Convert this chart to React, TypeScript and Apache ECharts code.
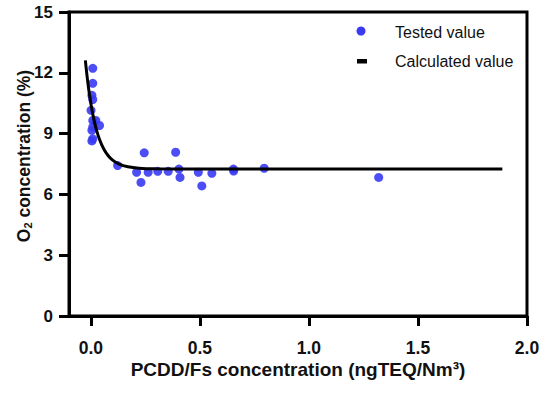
import React, { useEffect, useRef } from "react";
import * as echarts from "echarts";

// Tested values (x: PCDD/Fs concentration, y: O2 concentration)
const testedX = [0.009, 0.009, 0.005, 0.009, 0.001, 0.009, 0.023, 0.04, 0.009, 0.005, 0.009, 0.005,
  0.123, 0.245, 0.389, 0.21, 0.23, 0.263, 0.307, 0.355, 0.404, 0.409, 0.493, 0.509, 0.555, 0.654, 0.655, 0.795, 1.32];
const testedY = [12.22, 11.48, 10.89, 10.68, 10.15, 9.65, 9.65, 9.4, 9.32, 9.16, 8.74, 8.64,
  7.42, 8.05, 8.08, 7.09, 6.59, 7.09, 7.14, 7.14, 7.25, 6.84, 7.09, 6.42, 7.04, 7.25, 7.15, 7.29, 6.84];

// Calculated (fitted) curve
const calcX = [-0.025, -0.015, -0.005, 0.005, 0.015, 0.025, 0.04, 0.06, 0.08, 0.1, 0.13, 0.17, 0.22, 0.3, 0.5, 1.887];
const calcY = [12.61, 11.64, 10.84, 10.19, 9.66, 9.22, 8.71, 8.23, 7.91, 7.69, 7.49, 7.36, 7.29, 7.26, 7.25, 7.25];

const xTicks = [0, 0.5, 1, 1.5, 2];
const yTicks = [0, 3, 6, 9, 12, 15];

const FONT = "'Liberation Sans', Arial, sans-serif";

export default function App() {
  const ref = useRef<HTMLDivElement>(null);
  useEffect(() => {
    if (!ref.current) return;
    const chart = echarts.init(ref.current, undefined, { renderer: "svg" });
    const tested = testedX.map((x, i) => [x, testedY[i]]);
    const calc = calcX.map((x, i) => [x, calcY[i]]);
    chart.setOption({
      animation: false,
      backgroundColor: "#fff",
      grid: {
        left: 69, right: 23, top: 12, bottom: 78,
        show: true, borderColor: "#000", borderWidth: 3, backgroundColor: "transparent",
      },
      xAxis: {
        type: "value",
        min: -0.1,
        max: 2.0,
        splitLine: { show: false },
        axisLine: { show: true, onZero: false, lineStyle: { color: "#000", width: 3 } },
        axisTick: { show: true, length: 10, lineStyle: { color: "#000", width: 3 }, customValues: xTicks },
        axisLabel: {
          customValues: xTicks,
          formatter: (v: number) => v.toFixed(1),
          color: "#111", fontFamily: FONT, fontWeight: "bold", fontSize: 17.5, margin: 23,
        },
        name: "PCDD/Fs concentration (ngTEQ/Nm³)",
        nameLocation: "middle",
        nameGap: 44,
        nameMoveOverlap: false,
        nameTextStyle: { color: "#111", fontFamily: FONT, fontWeight: "bold", fontSize: 19 },
      },
      yAxis: {
        type: "value",
        min: 0,
        max: 15,
        interval: 3,
        splitLine: { show: false },
        axisLine: { show: true, onZero: false, lineStyle: { color: "#000", width: 3 } },
        axisTick: { show: true, length: 10, lineStyle: { color: "#000", width: 3 } },
        axisLabel: { color: "#111", fontFamily: FONT, fontWeight: "bold", fontSize: 17, margin: 16 },
        name: "{a|O}{s|2}{a| concentration (%)}",
        nameLocation: "middle",
        nameGap: 36,
        nameMoveOverlap: false,
        nameTextStyle: {
          color: "#111", fontFamily: FONT, fontWeight: "bold", fontSize: 17.5,
          padding: [0, 0, 0, 16],
          rich: {
            a: { color: "#111", fontFamily: FONT, fontWeight: "bold", fontSize: 17.5 },
            s: { color: "#111", fontFamily: FONT, fontWeight: "bold", fontSize: 11, padding: [8, 0, 0, 0] },
          },
        },
      },
      graphic: [
        { type: "circle", shape: { cx: 361, cy: 31, r: 4.5 }, style: { fill: "#3a3af5" } },
        { type: "rect", shape: { x: 357, y: 59, width: 10, height: 4.5 }, style: { fill: "#000" } },
        { type: "text", x: 395, y: 32, style: { text: "Tested value", fill: "#111", font: `16px ${FONT}`, verticalAlign: "middle" } },
        { type: "text", x: 395, y: 61, style: { text: "Calculated value", fill: "#111", font: `16px ${FONT}`, verticalAlign: "middle" } },
      ],
      series: [
        {
          name: "Calculated value",
          type: "line",
          data: calc,
          smooth: 0.4,
          showSymbol: false,
          lineStyle: { color: "#000", width: 3 },
          z: 3,
        },
        {
          name: "Tested value",
          type: "scatter",
          data: tested,
          symbolSize: 9,
          itemStyle: { color: "#3a3af5", opacity: 0.9 },
          z: 2,
        },
      ],
    });
    return () => chart.dispose();
  }, []);
  return <div ref={ref} style={{ width: 550, height: 394, position: "absolute", left: 0, top: 0 }} />;
}
